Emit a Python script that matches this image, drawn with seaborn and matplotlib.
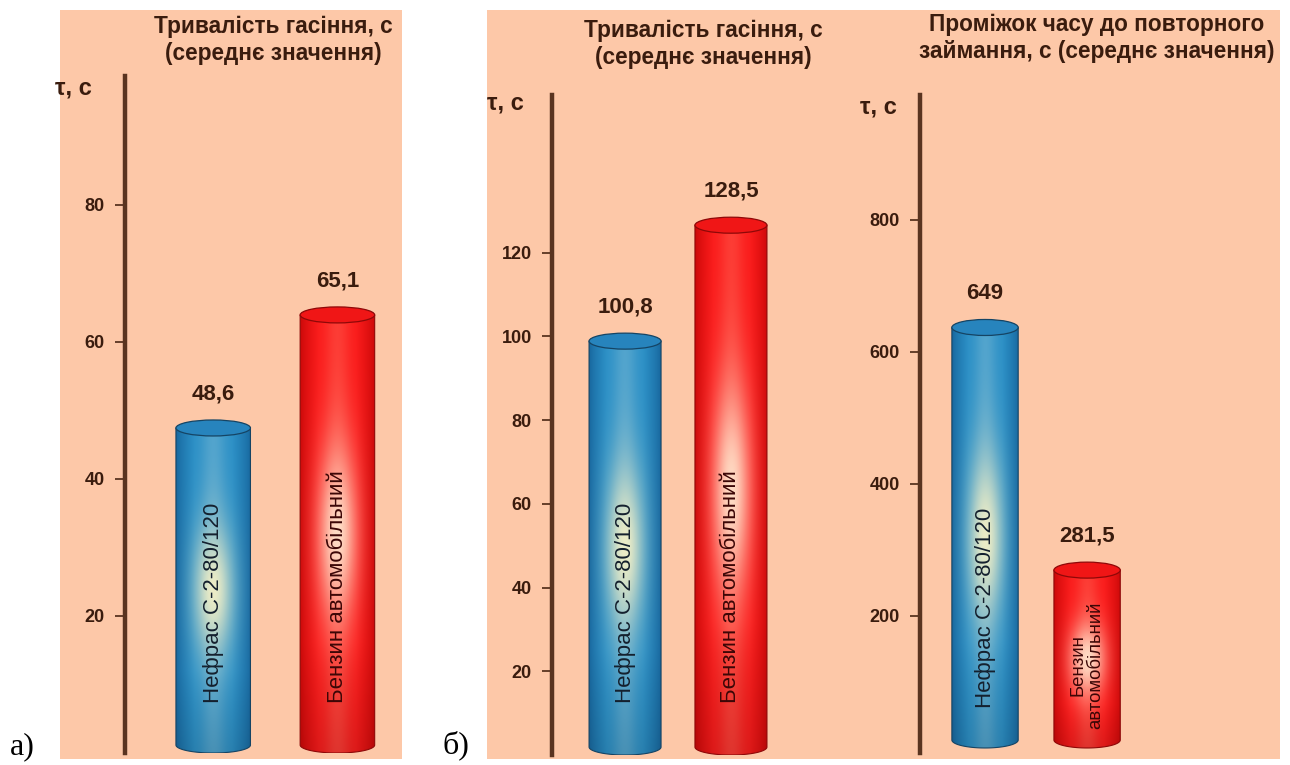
import numpy as np
import pandas as pd
import matplotlib
matplotlib.use("Agg")
import matplotlib.pyplot as plt
import seaborn as sns
from matplotlib.patches import Rectangle, Ellipse, Polygon
from matplotlib.colors import to_rgb

# ---- data -------------------------------------------------------------
fuels = ["Нефрас С-2-80/120", "Бензин автомобільний"]
fuel_labels_narrow = ["Нефрас С-2-80/120", "Бензин\nавтомобільний"]

extinguish_time_a = [48.6, 65.1]      # panel а)
extinguish_time_b = [100.8, 128.5]    # panel б), left chart
reignition_time_b = [649, 281.5]      # panel б), right chart

ticks_a = [20, 40, 60, 80]
ticks_b1 = [20, 40, 60, 80, 100, 120]
ticks_b2 = [200, 400, 600, 800]

title_extinguish = "Тривалість гасіння, с\n(середнє значення)"
title_reignition = "Проміжок часу до повторного\nзаймання, с (середнє значення)"
axis_label = "τ, с"

# ---- style ------------------------------------------------------------
sns.set_theme(style="white")
plt.rcParams["font.family"] = ["Liberation Sans", "DejaVu Sans"]

W, H = 1290, 765
BG = "#fdc8a8"
TEXT = "#3a1c0e"
AXIS = "#5a3420"

SCHEMES = {
    "blue": dict(edge="#17659c", base="#2a8fc6", stripe="#6cb2d2",
                 glow="#f4f0c6", cap="#2784bd", line="#154464", text="#14202e"),
    "red": dict(edge="#c80808", base="#fa1a1a", stripe="#ff5246",
                glow="#ffe4cc", cap="#f01616", line="#8e0808", text="#3c0606"),
}

fig = plt.figure(figsize=(W / 100, H / 100), dpi=100)
fig.patch.set_facecolor("white")


def fx(x):
    return x / W


def fy(y):
    return 1 - y / H


def px_box(left, top, right, bottom):
    return [left / W, 1 - bottom / H, (right - left) / W, (bottom - top) / H]


# peach backgrounds of the two figure parts
for left, top, right, bottom in [(60, 10, 402, 759), (487, 10, 1280, 759)]:
    fig.patches.append(Rectangle((fx(left), fy(bottom)), (right - left) / W,
                                 (bottom - top) / H, transform=fig.transFigure,
                                 facecolor=BG, edgecolor="none", zorder=-5))


def cylinder_image(s, nx=140, ny=320):
    u = np.linspace(0, 1, nx)[None, :]
    v = np.linspace(0, 1, ny)[:, None]
    edge, base, stripe, glow = (np.array(to_rgb(s[k])) for k in
                                ("edge", "base", "stripe", "glow"))
    t = 1 - np.abs(2 * u - 1)
    wb = np.clip(t / 0.5, 0, 1) ** 0.7
    col = edge + (base - edge) * wb[..., None]
    ws = np.exp(-((u - 0.5) / 0.17) ** 2) * 0.6
    col = col + (stripe - col) * ws[..., None]
    wg = np.exp(-((u - 0.5) / 0.26) ** 2) * np.exp(-((v - 0.5) / 0.2) ** 2) * 0.95
    col = col + (glow - col) * wg[..., None]
    shade = 0.88 + 0.12 * np.clip(v / 0.25, 0, 1)
    col = col * shade[..., None]
    return np.clip(col, 0, 1)


def draw_cylinder(ax, patch, s, cap_px=8):
    x0, w = patch.get_x(), patch.get_width()
    y0, h = patch.get_y(), patch.get_height()
    lo, hi = ax.get_ylim()
    dy = (hi - lo) / ax.get_window_extent().height * cap_px
    xc = x0 + w / 2
    top_c = y0 + h - dy
    bot_c = y0 + dy
    t = np.linspace(np.pi, 2 * np.pi, 80)
    arc = np.column_stack([xc + w / 2 * np.cos(t), bot_c + dy * np.sin(t)])
    verts = np.vstack([[x0, top_c], arc, [x0 + w, top_c]])
    body = Polygon(verts, closed=True, facecolor="none", edgecolor=s["line"],
                   lw=0.8, zorder=3)
    ax.add_patch(body)
    im = ax.imshow(cylinder_image(s), extent=[x0, x0 + w, y0, top_c],
                   origin="lower", aspect="auto", interpolation="bilinear",
                   zorder=2)
    im.set_clip_path(body)
    ax.add_patch(Ellipse((xc, top_c), w, 2 * dy, facecolor=s["cap"],
                         edgecolor=s["line"], lw=0.9, zorder=4))


def make_panel(box, values, ticks, xlim, ylim, width, labels, label_size,
               label_px, title, title_xy, tau_xy):
    ax = fig.add_axes(px_box(*box))
    ax.set_facecolor("none")
    df = pd.DataFrame({"fuel": fuels, "value": values})
    sns.barplot(data=df, x="fuel", y="value", hue="fuel", order=fuels,
                width=width, legend=False, ax=ax)
    ax.set_xlim(*xlim)
    ax.set_ylim(*ylim)
    for patch, scheme, lab, val, lsz, lpx in zip(ax.patches, ["blue", "red"],
                                                 labels, values, label_size,
                                                 label_px):
        patch.set_visible(False)
        s = SCHEMES[scheme]
        draw_cylinder(ax, patch, s)
        xc = patch.get_x() + patch.get_width() / 2
        ax.annotate(f"{val:g}".replace(".", ","), xy=(xc, val),
                    xytext=(0, 19), textcoords="offset points", ha="center",
                    va="center", fontsize=16, fontweight="bold", color=TEXT)
        ax.annotate(lab, xy=(xc, 0), xytext=(0, lpx * 0.72),
                    textcoords="offset points", rotation=90, ha="center",
                    va="bottom" if "\n" not in lab else "center",
                    multialignment="center", fontsize=lsz,
                    color=s["text"], zorder=6, linespacing=1.05)
    ax.set_xlim(*xlim)
    ax.set_ylim(*ylim)
    ax.set_xticks([])
    ax.set_yticks(ticks)
    ax.set_yticklabels([str(t) for t in ticks])
    ax.set_xlabel("")
    ax.set_ylabel("")
    for side in ("top", "right", "bottom"):
        ax.spines[side].set_visible(False)
    ax.spines["left"].set_color(AXIS)
    ax.spines["left"].set_linewidth(3.2)
    ax.tick_params(axis="y", left=True, direction="out", length=7.5, width=1.3,
                   color=AXIS, pad=7, labelsize=13, labelcolor=TEXT)
    for lbl in ax.get_yticklabels():
        lbl.set_fontweight("bold")
    fig.text(fx(title_xy[0]), fy(title_xy[1]), title, ha="center", va="center",
             fontsize=16.3, fontweight="bold", color=TEXT, linespacing=1.2)
    fig.text(fx(tau_xy[0]), fy(tau_xy[1]), axis_label, ha="left", va="center",
             fontsize=17, fontweight="bold", color=TEXT)
    return ax


make_panel((125, 76, 402, 753), extinguish_time_a, ticks_a, (-0.71, 1.52),
           (0, 98.8), 0.6, fuels, [16, 16], [50, 50], title_extinguish,
           (273, 40), (55, 88))
make_panel((552, 95, 840, 755), extinguish_time_b, ticks_b1, (-0.69, 2.03),
           (0, 157.7), 0.68, fuels, [16, 16], [52, 52], title_extinguish,
           (703, 44), (487, 103))
make_panel((920, 95, 1280, 753), reignition_time_b, ticks_b2, (-0.637, 2.89),
           (-7.6, 989), 0.65, fuel_labels_narrow, [16, 13.4], [40, 83],
           title_reignition, (1097, 38), (860, 107))

fig.text(fx(10), fy(747), "а)", ha="left", va="center", fontsize=23,
         family=["Liberation Serif", "DejaVu Serif"], color="black")
fig.text(fx(443), fy(745), "б)", ha="left", va="center", fontsize=23,
         family=["Liberation Serif", "DejaVu Serif"], color="black")

fig.savefig("out.png", dpi=100)
